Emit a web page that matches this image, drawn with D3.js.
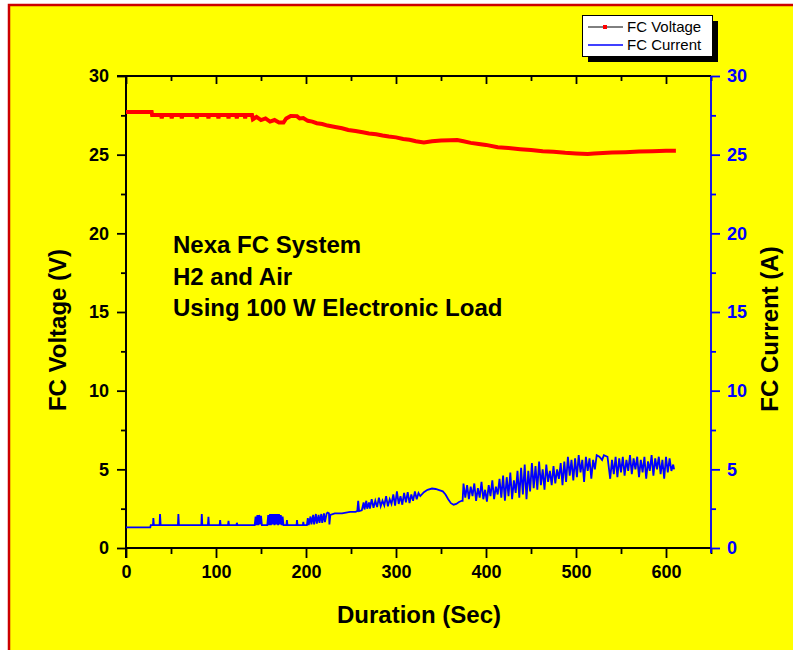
<!DOCTYPE html>
<html><head><meta charset="utf-8">
<script src="https://cdn.jsdelivr.net/npm/d3@7/dist/d3.min.js"></script>
<style>
html,body{margin:0;padding:0;background:#fff;}
svg{display:block;font-family:"Liberation Sans",Arial,sans-serif;}
</style></head>
<body>
<svg id="c" width="793" height="650"></svg>
<script>
// ---- data ----
const xTicks = [0,100,200,300,400,500,600];
const yTicks = [0,5,10,15,20,25,30];
const seriesNames = ["FC Voltage","FC Current"];
const annotation = ["Nexa FC System","H2 and Air","Using 100 W Electronic Load"];

const fcVoltage = [
 [0,27.71],[28.5,27.71],[29,27.52],[39,27.52],[39.7,27.31],[40.5,27.52],[50.2,27.52],[50.8,27.31],[51.5,27.52],
 [61.4,27.52],[62,27.31],[62.7,27.52],[78,27.52],[78.6,27.31],[79.3,27.52],[91,27.52],[91.6,27.31],[92.3,27.52],
 [102,27.52],[102.7,27.31],[103.4,27.52],[113.3,27.52],[113.9,27.31],[114.6,27.52],[122.5,27.52],[123.1,27.31],
 [123.8,27.52],[131.8,27.52],[132.4,27.31],[133,27.52],[140,27.52],[141,27.25],[145,27.4],[150,27.2],[155,27.3],
 [160,27.1],[165,27.2],[170,27.04],[175,27.04],[178,27.3],[183,27.46],[190,27.45],[193,27.3],[197,27.33],
 [202,27.15],[207,27.1],[212,27.0],[218,26.95],[224,26.85],[231,26.78],[240,26.68],[247,26.57],[255,26.5],
 [263,26.42],[270,26.35],[278,26.3],[285,26.22],[292,26.15],[300,26.1],[308,26.0],[315,25.95],[322,25.85],
 [331,25.78],[340,25.85],[350,25.9],[360,25.92],[368,25.93],[375,25.85],[383,25.75],[392,25.68],[400,25.62],
 [413,25.47],[425,25.42],[438,25.35],[450,25.3],[463,25.22],[475,25.18],[488,25.12],[500,25.08],[513,25.04],
 [520,25.07],[530,25.1],[540,25.13],[555,25.16],[570,25.2],[585,25.22],[600,25.25],[611,25.25]
];

const fcCurrent = [
 [0,1.31],[27,1.31],[27.5,1.46],[30,1.46],[30.4,1.9],[31,1.46],[37.3,1.46],[37.8,2.16],[38.5,1.46],
 [57.7,1.46],[58.2,2.16],[58.8,1.46],[83.7,1.46],[84.2,2.16],[84.8,1.46],[91,1.46],[91.6,1.99],[92.2,1.46],
 [104,1.46],[104.6,1.78],[105.2,1.46],[113.3,1.46],[113.9,1.72],[114.5,1.46],[122.7,1.46],[123.2,1.6],[123.8,1.46],
 [143,1.46],[144,2.0],[145,1.45],[146,2.1],[147,1.45],[148,2.1],[149,1.5],[150,2.05],[151,1.46],[157,1.46],
 [158,2.1],[159,1.45],[160,2.16],[161,1.45],[162,2.16],[163,1.5],[164,2.16],[165,1.45],[166,2.16],[167,1.5],
 [168,2.16],[169,1.45],[170,2.16],[171,1.5],[172,2.1],[173,1.45],[174,2.0],[175,1.46],[178.3,1.46],[178.8,1.78],
 [179.4,1.46],[189.5,1.46],[190,1.78],[190.6,1.46],[196.5,1.46],[197,1.66],[197.6,1.46],[201,1.46],[202,1.9],
 [203,1.45],[205,2.0],[206,1.5],[208,2.1],[209,1.5],[211,2.16],[212,1.55],[214,2.1],[215,1.6],[217,2.16],
 [218,1.6],[220,2.2],[221,1.65],[223,2.2],[224,2.25],[225.5,2.2],[226,1.5],[227,2.1],
 [232,2.2],[240,2.2],[249,2.3],[255,2.3],[257,2.35],[258,3.0],[259,2.35],[262,2.4],[264,2.9],[265,2.45],
 [267,3.0],[268,2.5],[270,2.9],[271,2.5],[273,3.1],[275,2.55],[277,3.0],[279,2.6],[281,3.2],[283,2.65],
 [285,3.0],[287,2.7],[289,3.3],[291,2.65],[293,3.1],[295,2.8],[297,3.4],[299,2.7],[301,3.6],[303,2.8],
 [305,3.3],[307,2.75],[309,3.5],[311,2.9],[313,3.55],[315,2.85],[317,3.4],[319,3.0],[321,3.6],[323,3.1],
 [325,3.5],[327,3.3],[331,3.55],[335,3.7],[340,3.78],[344,3.75],[348,3.68],[352,3.6],[355,3.4],[358,3.1],
 [361,2.85],[364,2.75],[367,2.8],[370,2.92],[373,3.0],[374,3.0],
 [375,4.1],[377,3.2],[379,4.0],[381,3.1],[383,3.9],[385,3.3],[387,4.1],[389,3.0],[391,3.8],[393,3.2],
 [395,4.2],[397,3.1],[399,3.7],[401,2.95],[403,4.0],[405,3.3],[407,4.3],[409,3.1],[411,3.9],[413,3.4],[415,4.4],
 [417,3.2],[419,4.6],[421,3.0],[423,4.5],[425,3.3],[427,4.8],[429,3.1],[431,4.3],[433,3.5],[435,4.9],
 [437,3.2],[439,5.1],[441,3.4],[443,5.3],[445,3.1],[447,4.9],[449,3.6],[451,5.4],
 [453,3.8],[455,5.2],[457,3.7],[459,5.5],[461,4.0],[463,5.0],[465,3.7],[467,5.3],[469,4.2],[471,4.9],
 [473,4.0],[475,5.2],[477,4.1],[479,5.0],[481,4.4],[483,5.4],[485,4.0],
 [487,5.5],[489,4.2],[491,5.8],[493,4.6],[495,5.6],[497,4.3],[499,5.7],[501,4.5],[503,5.9],[505,4.8],
 [507,5.6],[509,4.2],[511,5.8],[513,4.9],[515,5.7],[517,4.4],[519,5.6],[521,5.0],[523,5.9],
 [526,5.8],[529,5.6],[531,5.9],[535,5.8],[538,4.4],
 [540,5.6],[542,4.7],[544,5.8],[546,4.5],[548,5.7],[550,4.8],[552,5.8],[554,4.6],[556,5.6],[558,4.9],
 [560,5.9],[562,4.7],[564,5.7],[566,5.0],[568,5.8],[570,4.5],[572,5.6],[574,4.8],[576,5.8],[578,4.4],
 [580,5.5],[582,4.9],[584,5.9],[586,4.6],[588,5.7],[590,5.0],[592,5.8],[594,4.7],[596,5.6],[598,4.4],
 [600,5.8],[602,4.8],[604,5.7],[606,4.9],[608,5.3],[609,5.0]
];

// ---- layout ----
const svg = d3.select("#c");
const L = 126, R = 711, T = 76, B = 548;
const x = d3.scaleLinear().domain([0,650]).range([L,R]);
const yV = d3.scaleLinear().domain([0,30]).range([B,T]);
const yA = d3.scaleLinear().domain([0,30]).range([B,T]);
const FONT = '"Liberation Sans",Arial,sans-serif';

// background + border
svg.append("rect").attr("x",9).attr("y",5).attr("width",800).attr("height",660)
  .attr("fill","#ffff00").attr("stroke","#cc0000").attr("stroke-width",2.5);

const minorX = d3.range(50,651,100);
const minorY = d3.range(2.5,30,5);

function styleAxis(g, color){
  g.select(".domain").remove();
  g.selectAll("line").attr("stroke",color).attr("stroke-width",1.8);
  g.selectAll("text").attr("fill",color).attr("font-family",FONT)
   .attr("font-size",18).attr("font-weight","bold");
}

// bottom axis
const gB = svg.append("g").attr("transform",`translate(0,${B})`)
  .call(d3.axisBottom(x).tickValues(xTicks).tickSize(10).tickPadding(7).tickFormat(d3.format("d")));
styleAxis(gB,"#000");
const gBm = svg.append("g").attr("transform",`translate(0,${B})`)
  .call(d3.axisBottom(x).tickValues(minorX).tickSize(6).tickFormat(""));
styleAxis(gBm,"#000");
// top axis (inward ticks)
const gT = svg.append("g").attr("transform",`translate(0,${T})`)
  .call(d3.axisBottom(x).tickValues(xTicks).tickSize(8).tickFormat(""));
styleAxis(gT,"#000");
const gTm = svg.append("g").attr("transform",`translate(0,${T})`)
  .call(d3.axisBottom(x).tickValues(minorX).tickSize(5).tickFormat(""));
styleAxis(gTm,"#000");
// left axis
const gL = svg.append("g").attr("transform",`translate(${L},0)`)
  .call(d3.axisLeft(yV).tickValues(yTicks).tickSize(9).tickPadding(8).tickFormat(d3.format("d")));
styleAxis(gL,"#000");
const gLm = svg.append("g").attr("transform",`translate(${L},0)`)
  .call(d3.axisLeft(yV).tickValues(minorY).tickSize(5).tickFormat(""));
styleAxis(gLm,"#000");
// right axis
const gR = svg.append("g").attr("transform",`translate(${R},0)`)
  .call(d3.axisRight(yA).tickValues(yTicks).tickSize(9).tickPadding(7).tickFormat(d3.format("d")));
styleAxis(gR,"#0000ff");
const gRm = svg.append("g").attr("transform",`translate(${R},0)`)
  .call(d3.axisRight(yA).tickValues(minorY).tickSize(5).tickFormat(""));
styleAxis(gRm,"#0000ff");

// frame lines
svg.append("line").attr("x1",L-9).attr("x2",R).attr("y1",T).attr("y2",T).attr("stroke","#000").attr("stroke-width",2);
svg.append("line").attr("x1",L).attr("x2",R).attr("y1",B).attr("y2",B).attr("stroke","#000").attr("stroke-width",2);
svg.append("line").attr("x1",L).attr("x2",L).attr("y1",T).attr("y2",B+10).attr("stroke","#000").attr("stroke-width",2);
svg.append("line").attr("x1",R).attr("x2",R).attr("y1",T).attr("y2",B+5).attr("stroke","#0000ff").attr("stroke-width",1.8);

// series
const lineV = d3.line().x(d=>x(d[0])).y(d=>yV(d[1]));
const lineA = d3.line().x(d=>x(d[0])).y(d=>yA(d[1]));
svg.append("path").datum(fcVoltage).attr("d",lineV).attr("fill","none")
  .attr("stroke","#ff0000").attr("stroke-width",4).attr("stroke-linejoin","miter");
svg.append("path").datum(fcCurrent).attr("d",lineA).attr("fill","none")
  .attr("stroke","#0000ff").attr("stroke-width",1.8);

// axis titles
svg.append("text").attr("transform",`translate(66,330) rotate(-90)`).attr("text-anchor","middle")
  .attr("font-family",FONT).attr("font-size",24).attr("font-weight","bold").text("FC Voltage (V)");
svg.append("text").attr("transform",`translate(778,329) rotate(-90)`).attr("text-anchor","middle")
  .attr("font-family",FONT).attr("font-size",24).attr("font-weight","bold").text("FC Current (A)");
svg.append("text").attr("x",419).attr("y",623).attr("text-anchor","middle")
  .attr("font-family",FONT).attr("font-size",24).attr("font-weight","bold").text("Duration (Sec)");

// annotation
svg.selectAll("text.ann").data(annotation).enter().append("text").attr("class","ann")
  .attr("x",173).attr("y",(d,i)=>253+i*31.5)
  .attr("font-family",FONT).attr("font-size",24).attr("font-weight","bold").text(d=>d);

// legend
const lg = svg.append("g");
lg.append("rect").attr("x",588).attr("y",21).attr("width",130).attr("height",41).attr("fill","#000");
lg.append("rect").attr("x",582.5).attr("y",15.5).attr("width",130).attr("height",41)
  .attr("fill","#fff").attr("stroke","#000").attr("stroke-width",1);
lg.append("line").attr("x1",588).attr("x2",623).attr("y1",27).attr("y2",27).attr("stroke","#000").attr("stroke-width",1);
lg.append("rect").attr("x",603).attr("y",25).attr("width",4).attr("height",4).attr("fill","#ff0000");
lg.append("line").attr("x1",588).attr("x2",623).attr("y1",45).attr("y2",45).attr("stroke","#0000ff").attr("stroke-width",1.5);
lg.selectAll("text").data(seriesNames).enter().append("text")
  .attr("x",627).attr("y",(d,i)=>32+i*18).attr("font-family",FONT).attr("font-size",15).text(d=>d);
</script>
</body></html>
